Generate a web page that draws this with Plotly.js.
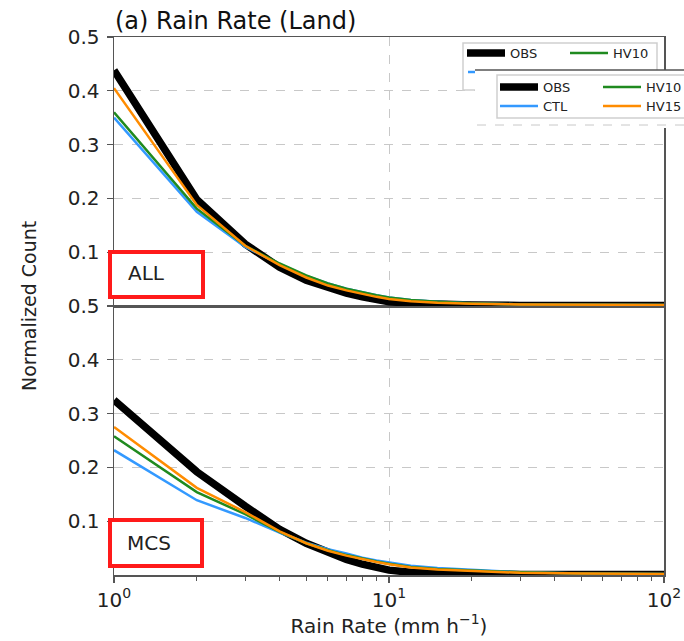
<!DOCTYPE html>
<html>
<head>
<meta charset="utf-8">
<script src="https://cdn.plot.ly/plotly-3.0.1.min.js"></script>
<style>html,body{margin:0;padding:0;background:#fff;}#chart{width:684px;height:641px;}</style>
</head>
<body>
<div id="chart"></div>
<script>
// ---- data ----
const rainRate = [1, 2, 3, 4, 5, 6, 7, 8, 9, 10, 12, 15, 20, 30, 50, 100];

const allOBS  = [0.438, 0.198, 0.115, 0.072, 0.048, 0.033, 0.024, 0.017, 0.012, 0.008, 0.005, 0.003, 0.002, 0.001, 0.001, 0.001];
const allCTL  = [0.350, 0.175, 0.110, 0.078, 0.056, 0.042, 0.032, 0.025, 0.020, 0.016, 0.011, 0.008, 0.005, 0.003, 0.002, 0.002];
const allHV10 = [0.360, 0.181, 0.112, 0.079, 0.057, 0.042, 0.032, 0.025, 0.020, 0.016, 0.011, 0.008, 0.005, 0.003, 0.002, 0.002];
const allHV15 = [0.405, 0.188, 0.112, 0.076, 0.053, 0.038, 0.029, 0.022, 0.017, 0.013, 0.009, 0.006, 0.004, 0.003, 0.002, 0.002];

const mcsOBS  = [0.325, 0.192, 0.128, 0.085, 0.059, 0.041, 0.029, 0.020, 0.014, 0.009, 0.005, 0.003, 0.002, 0.001, 0.001, 0.001];
const mcsCTL  = [0.232, 0.139, 0.106, 0.079, 0.060, 0.048, 0.040, 0.032, 0.027, 0.023, 0.017, 0.013, 0.010, 0.005, 0.003, 0.002];
const mcsHV10 = [0.258, 0.154, 0.113, 0.080, 0.059, 0.046, 0.037, 0.030, 0.025, 0.021, 0.015, 0.011, 0.008, 0.005, 0.003, 0.002];
const mcsHV15 = [0.275, 0.162, 0.117, 0.081, 0.059, 0.045, 0.036, 0.029, 0.024, 0.020, 0.014, 0.010, 0.007, 0.004, 0.003, 0.002];

const seriesNames = ['OBS', 'CTL', 'HV10', 'HV15'];
const xTickVals = [1, 10, 100];
const xTickText = ['10<sup>0</sup>', '10<sup>1</sup>', '10<sup>2</sup>'];
const xMinorVals = [2, 3, 4, 5, 6, 7, 8, 9, 20, 30, 40, 50, 60, 70, 80, 90];
const yTickVals = [0.1, 0.2, 0.3, 0.4, 0.5];
const yTickText = ['0.1', '0.2', '0.3', '0.4', '0.5'];
const panelLabels = ['ALL', 'MCS'];

// ---- styles ----
const FONT = 'DejaVu Sans, Liberation Sans, Arial, sans-serif';
const colors = {OBS: '#000000', CTL: '#3399ff', HV10: '#1f8a1f', HV15: '#ff8c00'};
const widths = {OBS: 7.5, CTL: 2.5, HV10: 2.5, HV15: 2.5};

function mk(name, y, xa, ya, legend, showlegend) {
  return {
    type: 'scatter', mode: 'lines', name: name,
    x: rainRate, y: y, xaxis: xa, yaxis: ya,
    line: {color: colors[name], width: widths[name]},
    legend: legend, showlegend: showlegend, hoverinfo: 'skip'
  };
}

const traces = [
  // top panel (ALL)
  mk('OBS',  allOBS,  'x2', 'y',  'legend', true),
  mk('CTL',  allCTL,  'x2', 'y',  'legend', false),
  mk('HV10', allHV10, 'x2', 'y',  'legend', true),
  mk('HV15', allHV15, 'x2', 'y',  'legend', false),
  // bottom panel (MCS)
  mk('OBS',  mcsOBS,  'x',  'y2', 'legend2', true),
  mk('CTL',  mcsCTL,  'x',  'y2', 'legend3', true),
  mk('HV10', mcsHV10, 'x',  'y2', 'legend2', true),
  mk('HV15', mcsHV15, 'x',  'y2', 'legend3', true)
];

const axisLine = '#555';
const gridCol = '#c8c8c8';
const tickFont = {family: FONT, size: 20, color: '#222'};

const W = 684, H = 641, ML = 114, MR = 20, MT = 37, MB = 66;
const PW = W - ML - MR, PH = H - MT - MB;
const px = v => (v - ML) / PW;           // pixel -> paper x
const py = v => (H - MB - v) / PH;       // pixel -> paper y

const xCommon = {
  type: 'log', range: [0, 2],
  tickmode: 'array', tickvals: xTickVals, ticktext: xTickText,
  showline: true, linecolor: axisLine, linewidth: 1.5, mirror: true,
  showgrid: true, gridcolor: gridCol, griddash: 'dash', gridwidth: 1,
  zeroline: false, tickfont: tickFont
};
const yCommon = {
  range: [0, 0.5], tickmode: 'array', tickvals: yTickVals, ticktext: yTickText,
  showline: true, linecolor: axisLine, linewidth: 1.5, mirror: true,
  ticks: 'outside', ticklen: 6, tickwidth: 1.2, tickcolor: axisLine,
  showgrid: true, gridcolor: gridCol, griddash: 'dash', gridwidth: 1,
  zeroline: false, tickfont: tickFont, ticklabelstandoff: 3
};

const legendCommon = {
  orientation: 'h', xanchor: 'left', yanchor: 'middle',
  bgcolor: 'rgba(0,0,0,0)', borderwidth: 0,
  font: {family: FONT, size: 13, color: '#222'},
  itemwidth: 38, entrywidth: 50, entrywidthmode: 'pixels',
  itemclick: false, itemdoubleclick: false
};

const layout = {
  width: W, height: H,
  margin: {l: ML, r: MR, t: MT, b: MB, autoexpand: false},
  paper_bgcolor: '#fff', plot_bgcolor: '#fff',
  hovermode: false,
  title: {
    text: '(a) Rain Rate (Land)',
    font: {family: FONT, size: 24, color: '#111'},
    xref: 'paper', x: px(115), xanchor: 'left',
    yref: 'container', y: 1 - 21 / H, yanchor: 'middle'
  },
  xaxis: Object.assign({}, xCommon, {
    anchor: 'y2', domain: [0, 1],
    ticks: 'outside', ticklen: 6, tickwidth: 1.2, tickcolor: axisLine,
    minor: {tickmode: 'array', tickvals: xMinorVals, ticks: 'outside', ticklen: 4, tickwidth: 1, tickcolor: axisLine, showgrid: false},
    title: {text: 'Rain Rate (mm h<sup>\u22121</sup>)', font: {family: FONT, size: 20, color: '#222'}, standoff: 5}
  }),
  xaxis2: Object.assign({}, xCommon, {
    anchor: 'y', matches: 'x', domain: [0, 1], ticks: '', showticklabels: false
  }),
  yaxis: Object.assign({}, yCommon, {domain: [0.5, 1], anchor: 'x2'}),
  yaxis2: Object.assign({}, yCommon, {domain: [0, 0.5], anchor: 'x'}),
  showlegend: true,
  legend:  Object.assign({}, legendCommon, {x: px(462), y: py(53)}),
  legend2: Object.assign({}, legendCommon, {x: px(495), y: py(87)}),
  legend3: Object.assign({}, legendCommon, {x: px(495), y: py(106)}),
  shapes: [
    // inner legend frame (partly hidden)
    {type: 'rect', xref: 'paper', yref: 'paper', layer: 'above',
     x0: px(463), x1: px(657), y0: py(90), y1: py(43),
     line: {color: '#cfcfcf', width: 1.5}, fillcolor: '#fff'},
    // overlapping panel (white cover)
    {type: 'rect', xref: 'paper', yref: 'paper', layer: 'above',
     x0: px(475), x1: px(720), y0: py(128), y1: py(70),
     line: {width: 0}, fillcolor: '#fff'},
    {type: 'line', xref: 'paper', yref: 'paper', layer: 'above',
     x0: px(475), x1: px(720), y0: py(70), y1: py(70),
     line: {color: axisLine, width: 1.5}},
    {type: 'line', xref: 'paper', yref: 'paper', layer: 'above',
     x0: px(477), x1: px(720), y0: py(125), y1: py(125),
     line: {color: gridCol, width: 1, dash: 'dash'}},
    // overlay legend frame
    {type: 'rect', xref: 'paper', yref: 'paper', layer: 'above',
     x0: px(497), x1: px(720), y0: py(118), y1: py(75),
     line: {color: '#cfcfcf', width: 1.5}, fillcolor: '#fff'},
    // tiny visible part of the hidden CTL legend sample
    {type: 'line', xref: 'paper', yref: 'paper', layer: 'above',
     x0: px(468), x1: px(475), y0: py(72), y1: py(72),
     line: {color: colors.CTL, width: 2.5}},
    // red label boxes
    {type: 'rect', xref: 'paper', yref: 'paper', layer: 'above',
     x0: px(110), x1: px(203), y0: py(297), y1: py(252),
     line: {color: '#ff1a1a', width: 4}, fillcolor: '#fff'},
    {type: 'rect', xref: 'paper', yref: 'paper', layer: 'above',
     x0: px(110), x1: px(202), y0: py(566), y1: py(520),
     line: {color: '#ff1a1a', width: 4}, fillcolor: '#fff'}
  ],
  annotations: [
    {text: panelLabels[0], xref: 'paper', yref: 'paper', x: px(126), y: py(273),
     xanchor: 'left', yanchor: 'middle', showarrow: false,
     font: {family: FONT, size: 20, color: '#222'}},
    {text: panelLabels[1], xref: 'paper', yref: 'paper', x: px(125), y: py(543),
     xanchor: 'left', yanchor: 'middle', showarrow: false,
     font: {family: FONT, size: 20, color: '#222'}},
    {text: 'Normalized Count', xref: 'paper', yref: 'paper', x: px(29), y: 0.5,
     xanchor: 'center', yanchor: 'middle', textangle: -90, showarrow: false,
     font: {family: FONT, size: 19, color: '#222'}}
  ]
};

Plotly.newPlot('chart', traces, layout, {staticPlot: true, displayModeBar: false});
</script>
</body>
</html>
